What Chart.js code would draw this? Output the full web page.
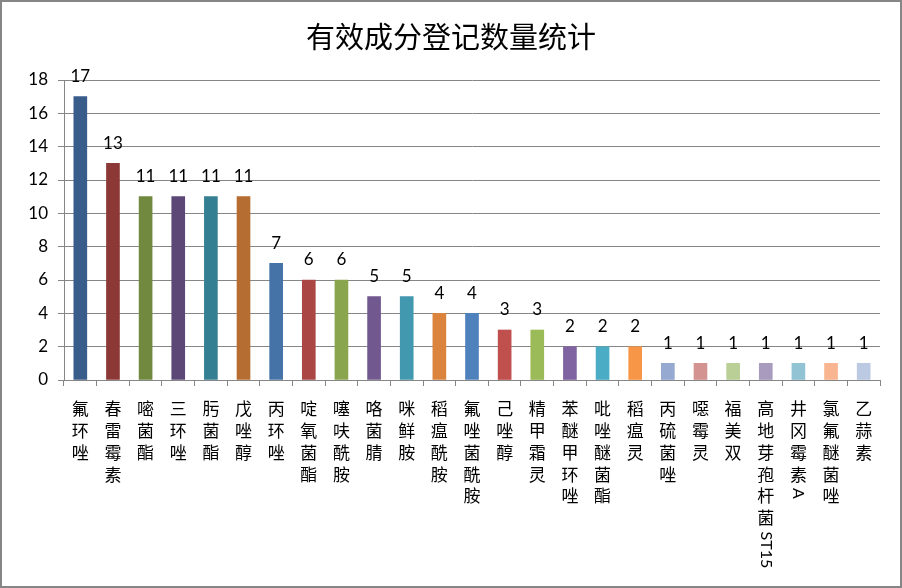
<!DOCTYPE html>
<html>
<head>
<meta charset="utf-8">
<script src="https://cdn.jsdelivr.net/npm/chart.js@4.4.0/dist/chart.umd.min.js"></script>
<style>
html,body{margin:0;padding:0;background:#fff;}
#wrap{width:902px;height:588px;position:relative;}
</style>
</head>
<body>
<div id="wrap"><canvas id="c" width="902" height="588"></canvas></div>
<script>
const chartTitle = "有效成分登记数量统计";
const categories = ["氟环唑","春雷霉素","嘧菌酯","三环唑","肟菌酯","戊唑醇","丙环唑","啶氧菌酯","噻呋酰胺","咯菌腈","咪鲜胺","稻瘟酰胺","氟唑菌酰胺","己唑醇","精甲霜灵","苯醚甲环唑","吡唑醚菌酯","稻瘟灵","丙硫菌唑","噁霉灵","福美双","高地芽孢杆菌ST15","井冈霉素A","氯氟醚菌唑","乙蒜素"];
const counts = [17,13,11,11,11,11,7,6,6,5,5,4,4,3,3,2,2,2,1,1,1,1,1,1,1];
const yTicks = [0,2,4,6,8,10,12,14,16,18];
const barColors = ["#385D8A","#8C3836","#71893F","#5C4776","#357F92","#B66D31",
  "#4572A7","#AA4643","#89A54E","#71588F","#4198AF","#DB843D",
  "#4F81BD","#C0504D","#9BBB59","#8064A2","#4BACC6","#F79646",
  "#95A9D1","#D39391","#B9CF96","#A99BBD","#92C3D5","#F9B590","#BCC9E3"];

const LABEL_SIZE = 17, LABEL_LH = 1.28, TICK_LEN = 6, TICK_PAD = 12;

// split: CJK characters stacked; trailing Latin/digit run drawn rotated
function splitLabel(s){
  const m = s.match(/^(.*?)([A-Za-z0-9]+)$/);
  if(m) return {cjk: Array.from(m[1]), latin: m[2]};
  return {cjk: Array.from(s), latin: ''};
}
const parts = categories.map(splitLabel);

const valueLabels = {
  id:'valueLabels',
  afterDatasetsDraw(chart){
    const ctx=chart.ctx; const meta=chart.getDatasetMeta(0);
    ctx.save();
    ctx.font='17px Lato, "Liberation Sans", sans-serif';
    ctx.fillStyle='#000'; ctx.textAlign='center'; ctx.textBaseline='middle';
    meta.data.forEach((el,i)=>{ ctx.fillText(String(counts[i]), el.x, el.y-20); });
    ctx.restore();
  }
};
const latinRuns = {
  id:'latinRuns',
  afterDraw(chart){
    const ctx=chart.ctx, xs=chart.scales.x;
    const top = xs.top + TICK_LEN + TICK_PAD;
    const lh = LABEL_SIZE*LABEL_LH;
    ctx.save();
    ctx.font='16px Lato, "Liberation Sans", sans-serif';
    ctx.fillStyle='#000'; ctx.textAlign='left'; ctx.textBaseline='middle';
    parts.forEach((p,i)=>{
      if(!p.latin) return;
      const x = xs.getPixelForValue(i);
      const y = top + p.cjk.length*lh + 3;
      ctx.save(); ctx.translate(x, y); ctx.rotate(Math.PI/2);
      ctx.fillText(p.latin, 0, 0);
      ctx.restore();
    });
    ctx.restore();
  }
};
const frame = {
  id:'frame',
  afterDraw(chart){
    const ctx=chart.ctx; ctx.save();
    ctx.font='29px "Noto Sans CJK SC", sans-serif';
    ctx.fillStyle='#000'; ctx.textAlign='center'; ctx.textBaseline='middle';
    ctx.fillText(chartTitle, 451, 37);
    ctx.strokeStyle='#868686'; ctx.lineWidth=2;
    ctx.strokeRect(1,1,900,586);
    ctx.restore();
  }
};

new Chart(document.getElementById('c'),{
  type:'bar',
  data:{
    labels: parts.map(p=>p.cjk),
    datasets:[{data:counts, backgroundColor:barColors, barThickness:13}]
  },
  options:{
    responsive:false, animation:false,
    layout:{padding:{top:80,right:22,bottom:0,left:0}},
    plugins:{legend:{display:false}, title:{display:false}, tooltip:{enabled:false}},
    scales:{
      x:{
        offset:true,
        grid:{display:true, drawOnChartArea:false, drawTicks:true, tickLength:TICK_LEN, color:'#868686', offset:true},
        border:{display:true, color:'#868686', width:1},
        ticks:{autoSkip:false, maxRotation:0, minRotation:0, padding:TICK_PAD, color:'#000',
          font:{family:'"Noto Sans CJK SC", sans-serif', size:LABEL_SIZE, lineHeight:LABEL_LH}},
        afterFit(s){ s.height = 208; }
      },
      y:{
        min:0, max:18,
        afterBuildTicks(s){ s.ticks = yTicks.map(v=>({value:v})); },
        grid:{color:'#868686', tickLength:6, drawTicks:true},
        border:{display:true, color:'#868686', width:1},
        ticks:{color:'#000', padding:10, font:{family:'Lato, "Liberation Sans", sans-serif', size:17}},
        afterFit(s){ s.width = 64; }
      }
    }
  },
  plugins:[valueLabels, latinRuns, frame]
});
</script>
</body>
</html>
